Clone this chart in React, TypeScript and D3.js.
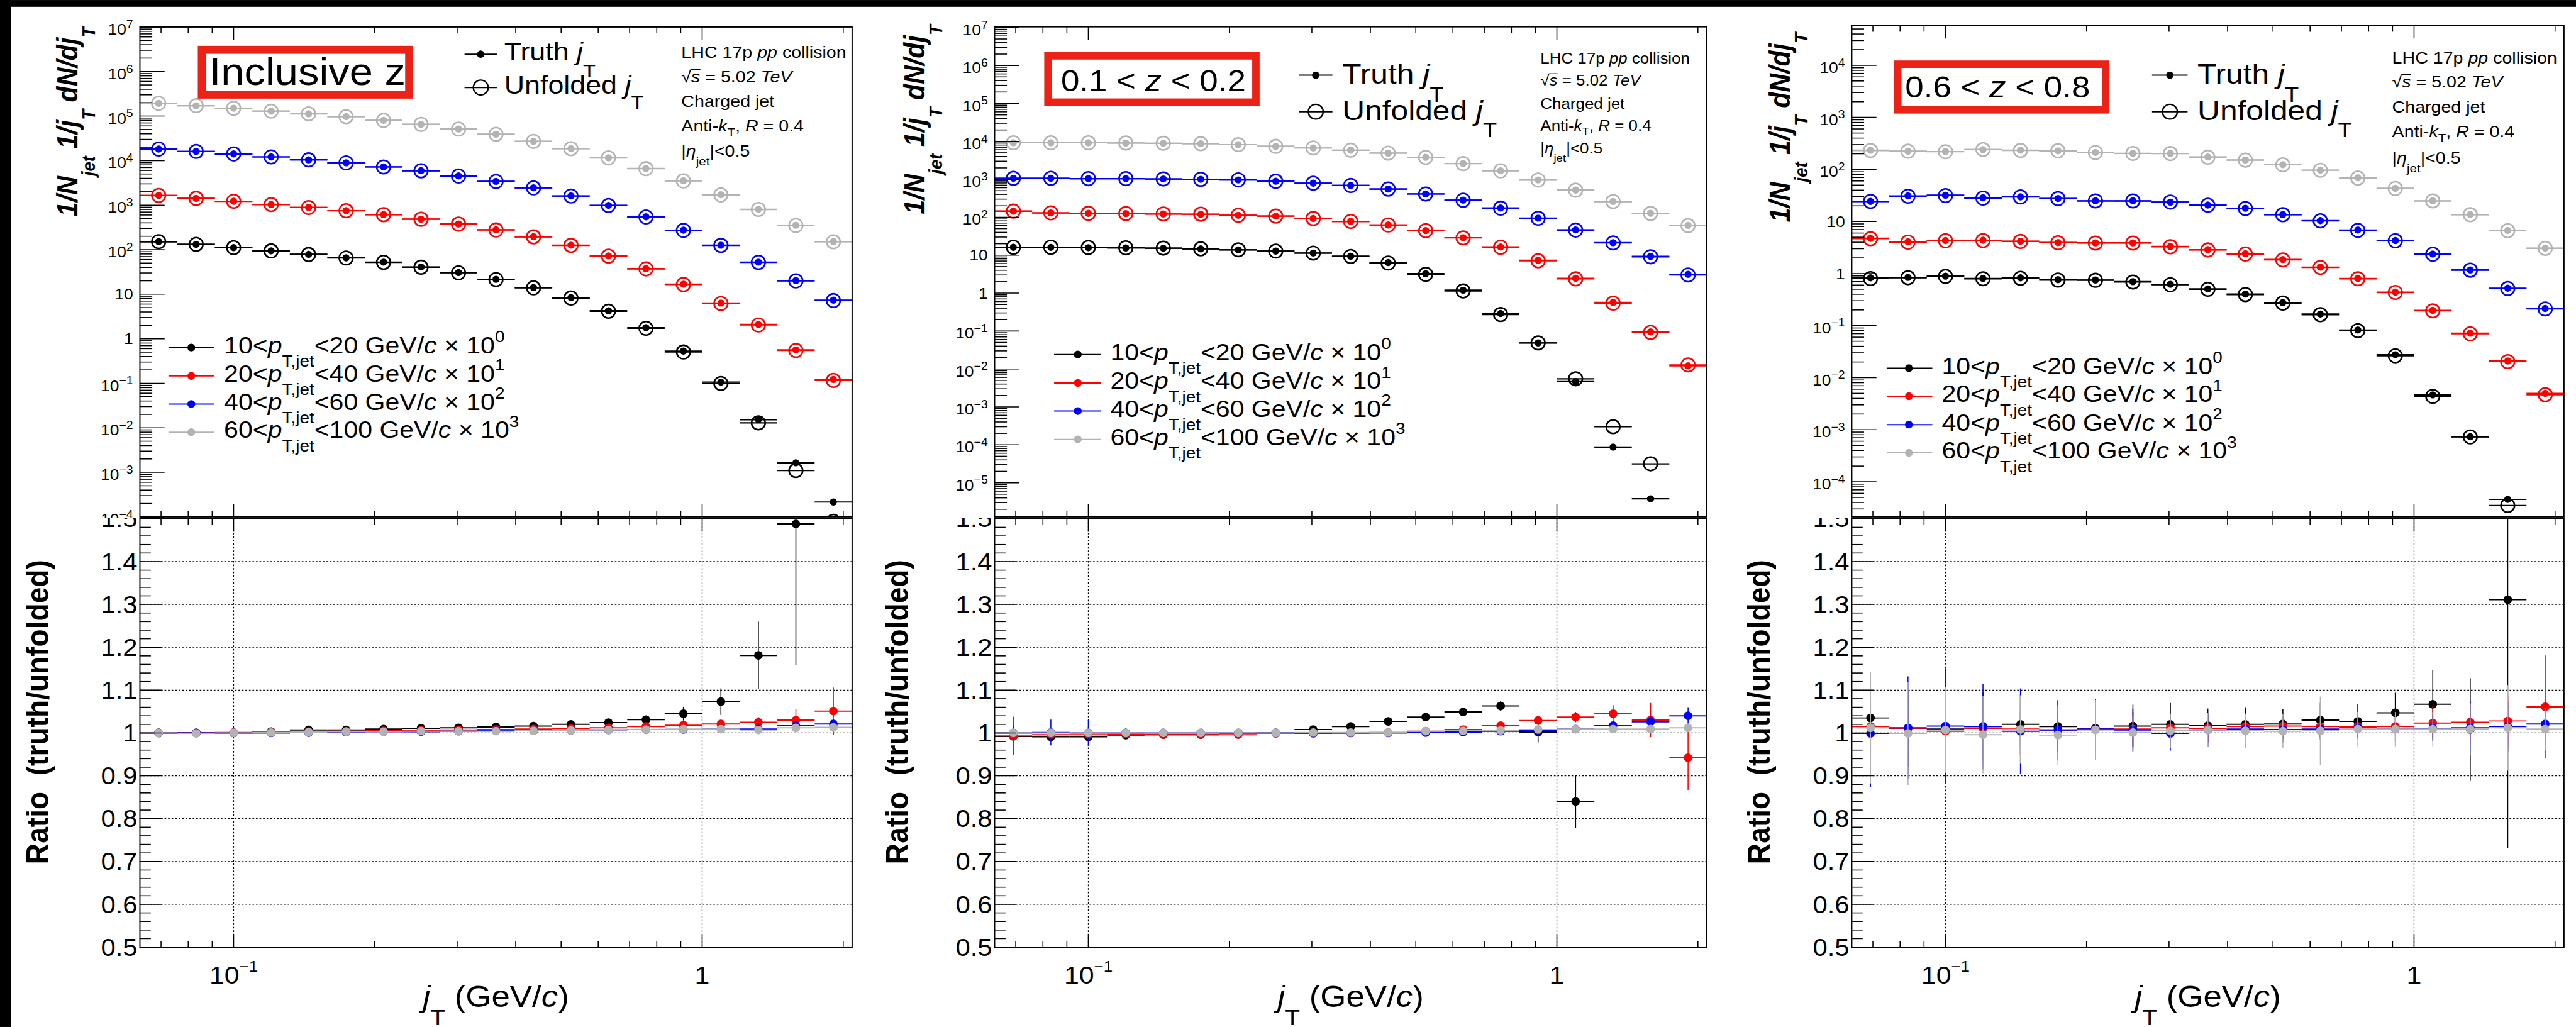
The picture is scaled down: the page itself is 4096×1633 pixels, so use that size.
import React from 'react';
import * as d3 from 'd3';

// ---------------- data ----------------
const jtBinEdges = [0.063096, 0.075858, 0.091201, 0.10965, 0.13183, 0.15849, 0.19055, 0.22909, 0.27542, 0.33113, 0.39811, 0.47863, 0.57544, 0.69183, 0.83176, 1.0, 1.2023, 1.4454, 1.7378, 2.0893];

const ptLow = [10, 20, 40, 60];
const ptHigh = [20, 40, 60, 100];
const scaleExp = ['0', '1', '2', '3'];
const seriesColors = ['#000000', '#ff0000', '#0000ff', '#b3b3b3'];

const xTickValues = [0.07, 0.08, 0.09, 0.1, 0.2, 0.3, 0.4, 0.5, 0.6, 0.7, 0.8, 0.9, 1, 2];
const xMajorTicks = [0.1, 1];
const xTickLabels = [{ v: 0.1, base: '10', exp: '\u22121' }, { v: 1, base: '1', exp: '' }];
const ratioTicks = [0.5, 0.6, 0.7, 0.8, 0.9, 1.0, 1.1, 1.2, 1.3, 1.4, 1.5];
const ratioTickLabels = ['0.5', '0.6', '0.7', '0.8', '0.9', '1', '1.1', '1.2', '1.3', '1.4', '1.5'];
const ratioGridValues = [0.6, 0.7, 0.8, 0.9, 1.0, 1.1, 1.2, 1.3, 1.4];

// Inclusive z : unfolded spectra (already multiplied by the legend scale factors)
const unfoldedInclusive: (number | null)[][] = [
  [151, 132, 111, 94, 78, 65, 52, 40.4, 30.3, 21.3, 13.9, 8.2, 4.15, 1.72, 0.505, 0.099, 0.0129, 0.0011, 8.0e-5],
  [1650, 1420, 1220, 1030, 885, 748, 611, 482, 375, 277, 194, 125, 71.6, 37, 16.5, 6.2, 2.04, 0.546, 0.116],
  [18200, 16100, 14100, 12100, 10400, 8900, 7200, 5900, 4500, 3400, 2440, 1600, 980, 543, 272, 125, 52, 19.9, 7.2],
  [193000, 171000, 150000, 129000, 112000, 97000, 80000, 65000, 51000, 39000, 27000, 18500, 11500, 6600, 3500, 1700, 800, 350, 150],
];
const ratioInclusive: (number | null)[][] = [
  [1.0, 1.0, 1.0, 1.003, 1.007, 1.007, 1.009, 1.011, 1.012, 1.014, 1.016, 1.02, 1.024, 1.031, 1.045, 1.073, 1.181, 1.488, 2.7],
  [1.0, 1.0, 1.001, 1.002, 1.003, 1.004, 1.005, 1.006, 1.007, 1.008, 1.009, 1.01, 1.012, 1.015, 1.018, 1.021, 1.025, 1.03, 1.051],
  [1.0, 1.0, 1.0, 1.0, 1.001, 1.002, 1.003, 1.003, 1.004, 1.005, 1.005, 1.006, 1.007, 1.008, 1.008, 1.009, 1.009, 1.017, 1.021],
  [1.0, 0.999, 1.0, 1.001, 1.002, 1.003, 1.003, 1.004, 1.004, 1.004, 1.005, 1.006, 1.007, 1.008, 1.009, 1.009, 1.007, 1.012, 1.013],
];
const ratioErrInclusive: number[][] = [
  [0.002, 0.002, 0.002, 0.002, 0.002, 0.002, 0.002, 0.002, 0.003, 0.003, 0.004, 0.005, 0.006, 0.008, 0.016, 0.031, 0.079, 0.33, 0],
  [0.001, 0.001, 0.001, 0.001, 0.001, 0.002, 0.002, 0.002, 0.002, 0.003, 0.003, 0.004, 0.005, 0.006, 0.008, 0.01, 0.012, 0.025, 0.055],
  [0.001, 0.001, 0.001, 0.001, 0.001, 0.001, 0.001, 0.002, 0.002, 0.002, 0.002, 0.003, 0.003, 0.004, 0.005, 0.006, 0.01, 0.01, 0.01],
  [0.001, 0.001, 0.001, 0.001, 0.001, 0.001, 0.001, 0.001, 0.002, 0.002, 0.002, 0.002, 0.003, 0.003, 0.004, 0.004, 0.005, 0.006, 0.008],
];

// 0.1 < z < 0.2
const unfoldedZ01: (number | null)[][] = [
  [16.2, 16.2, 15.9, 15.6, 15.3, 14.7, 13.8, 12.8, 11.3, 9.25, 6.2, 3.13, 1.14, 0.272, 0.0485, 5.5e-3, 3.0e-4, 3.15e-5, null],
  [145, 130, 127, 125, 122, 120, 113, 107, 92.7, 77.6, 62.4, 44.3, 28.6, 16.2, 7.12, 2.37, 0.543, 0.092, 0.0128],
  [1060, 1060, 1040, 1040, 1020, 1000, 963, 890, 789, 687, 553, 410, 281, 174, 94, 45.9, 21, 9.06, 3.0],
  [9200, 9200, 9200, 9060, 8900, 8700, 8200, 7400, 6700, 5850, 4900, 3780, 2590, 1670, 955, 516, 258, 126, 60.3],
];
const ratioZ01: (number | null)[][] = [
  [0.992, 0.991, 0.991, 0.995, 0.996, 0.996, 0.999, 1.0, 1.008, 1.015, 1.027, 1.037, 1.049, 1.063, 1.002, 0.84, 0.29, 0.12, null],
  [0.993, 0.996, 0.996, 0.997, 0.996, 0.996, 0.996, 0.999, 0.999, 1.0, 1.001, 1.004, 1.008, 1.017, 1.029, 1.037, 1.045, 1.03, 0.942],
  [1.0, 1.001, 1.0, 1.0, 1.0, 1.0, 1.0, 1.0, 1.0, 1.0, 1.0, 1.001, 1.002, 1.004, 1.006, 1.009, 1.017, 1.026, 1.04],
  [1.0, 1.0, 1.0, 1.0, 1.0, 1.0, 1.0, 1.0, 1.001, 1.001, 1.001, 1.004, 1.005, 1.006, 1.008, 1.009, 1.009, 1.009, 1.012],
];
const ratioErrZ01: number[][] = [
  [0.006, 0.006, 0.006, 0.005, 0.004, 0.004, 0.003, 0.003, 0.003, 0.004, 0.005, 0.006, 0.008, 0.012, 0.024, 0.062, 0, 0, 0],
  [0.045, 0.01, 0.008, 0.006, 0.005, 0.004, 0.004, 0.004, 0.004, 0.004, 0.004, 0.005, 0.006, 0.008, 0.01, 0.012, 0.02, 0.04, 0.075],
  [0.015, 0.03, 0.03, 0.012, 0.01, 0.008, 0.006, 0.005, 0.005, 0.004, 0.004, 0.004, 0.004, 0.005, 0.006, 0.008, 0.01, 0.012, 0.02],
  [0.01, 0.01, 0.008, 0.006, 0.005, 0.005, 0.004, 0.004, 0.004, 0.004, 0.004, 0.004, 0.004, 0.005, 0.006, 0.006, 0.006, 0.008, 0.01],
];

// 0.6 < z < 0.8
const unfoldedZ06: (number | null)[][] = [
  [0.80, 0.832, 0.883, 0.793, 0.812, 0.749, 0.742, 0.687, 0.609, 0.498, 0.395, 0.271, 0.162, 0.080, 0.0263, 4.37e-3, 7.27e-4, 3.5e-5, null],
  [4.68, 4.02, 4.28, 4.31, 4.14, 3.91, 3.85, 3.85, 3.27, 2.84, 2.37, 1.83, 1.31, 0.793, 0.433, 0.192, 0.0696, 0.0203, 4.7e-3],
  [24.3, 30.6, 31.5, 28.1, 29.6, 27.5, 24.8, 24.8, 23.6, 20.6, 17.8, 13.5, 10.3, 6.77, 4.26, 2.35, 1.16, 0.515, 0.209],
  [231, 224, 219, 241, 232, 229, 211, 203, 202, 172, 151, 123, 96.5, 68.3, 43, 24.8, 13.5, 6.65, 3.05],
];
const ratioZ06: (number | null)[][] = [
  [1.035, 1.011, 1.009, 1.015, 1.02, 1.015, 1.011, 1.016, 1.02, 1.017, 1.02, 1.021, 1.03, 1.027, 1.047, 1.067, 1.008, 1.311, null],
  [1.015, 1.011, 1.004, 1.011, 1.009, 1.007, 1.009, 1.009, 1.012, 1.011, 1.015, 1.016, 1.015, 1.015, 1.015, 1.023, 1.025, 1.028, 1.061],
  [0.999, 1.012, 1.016, 1.015, 1.004, 1.007, 1.009, 1.007, 0.999, 1.007, 1.009, 1.008, 1.009, 1.012, 1.009, 1.011, 1.012, 1.015, 1.021],
  [1.012, 0.999, 1.007, 0.996, 1.008, 0.995, 1.007, 1.001, 1.005, 1.007, 1.005, 1.004, 1.005, 1.009, 1.009, 1.009, 1.009, 1.012, 1.009],
];
const ratioErrZ06: number[][] = [
  [0.1, 0.09, 0.1, 0.08, 0.07, 0.06, 0.06, 0.05, 0.05, 0.04, 0.04, 0.035, 0.04, 0.04, 0.047, 0.08, 0.12, 0.58, 0],
  [0.05, 0.04, 0.04, 0.04, 0.04, 0.03, 0.03, 0.04, 0.03, 0.03, 0.03, 0.03, 0.02, 0.02, 0.02, 0.04, 0.05, 0.06, 0.12],
  [0.125, 0.12, 0.135, 0.1, 0.1, 0.07, 0.07, 0.05, 0.04, 0.04, 0.03, 0.03, 0.025, 0.025, 0.03, 0.03, 0.06, 0.06, 0.05],
  [0.13, 0.12, 0.1, 0.09, 0.08, 0.07, 0.07, 0.04, 0.04, 0.04, 0.04, 0.04, 0.08, 0.04, 0.04, 0.04, 0.06, 0.1, 0.05],
];

// ---------------- layout ----------------
const VW = 4174, VH = 1664;
const FONT = "'Liberation Sans', Arial, Helvetica, sans-serif";
const SX = 1.1;
const PANEL_W = 1154;
const UP_BOTTOM = 837.5;
const R_TOP = 840.5;
const R_BOTTOM = 1534.7;
const CLIP_Y = 839;

const panels = [
  {
    left: 226.7, top: 43.7, yLog: [-4, 7],
    unfolded: unfoldedInclusive, ratio: ratioInclusive, err: ratioErrInclusive,
    box: { x: 327, y: 80.7, w: 336, h: 72.6, sw: 13 }, boxText: { x: 339, y: 137.3, size: 62, kind: 'inc' },
    leg: { x0: 752.7, x1: 805, xm: 779, y1: 87.8, y2: 141.8, tx: 817, b1: 98, b2: 151.6, size: 41.5 },
    info: { x: 1104, ys: [93.6, 133.75, 173, 213, 254], size: 26.5 },
    bleg: { x0: 273, x1: 346.4, xm: 310, ys: [563.1, 609.1, 654.6, 700.2], tx: 362.9 },
    yTitle: { x: 125, y: 43.5 }, rTitle: { x: 78.3, y: 907 },
  },
  {
    left: 1611.6, top: 43.4, yLog: [-5.9, 7.02],
    unfolded: unfoldedZ01, ratio: ratioZ01, err: ratioErrZ01,
    box: { x: 1698, y: 90.5, w: 337, h: 75, sw: 12 }, boxText: { x: 1719, y: 148, size: 49, kind: ['0.1', '0.2'] },
    leg: { x0: 2105, x1: 2159, xm: 2132, y1: 121.8, y2: 181, tx: 2175, b1: 135, b2: 194.8, size: 46 },
    info: { x: 2496, ys: [103, 138.7, 175.8, 211.8, 248.8], size: 24 },
    bleg: { x0: 1708, x1: 1784, xm: 1746.4, ys: [574.4, 620.5, 666, 712], tx: 1799 },
    yTitle: { x: 1498, y: 40 }, rTitle: { x: 1472, y: 907 },
  },
  {
    left: 3000.5, top: 41.3, yLog: [-4.675, 4.765],
    unfolded: unfoldedZ06, ratio: ratioZ06, err: ratioErrZ06,
    box: { x: 3075, y: 104, w: 337, h: 74, sw: 12 }, boxText: { x: 3087, y: 157.8, size: 49, kind: ['0.6', '0.8'] },
    leg: { x0: 3487, x1: 3544.6, xm: 3516, y1: 121.8, y2: 181, tx: 3560.6, b1: 135, b2: 194.8, size: 46 },
    info: { x: 3876, ys: [103, 141.9, 182.6, 222.3, 264.7], size: 26.5 },
    bleg: { x0: 3057, x1: 3131, xm: 3093, ys: [596.6, 642, 688, 733.7], tx: 3146.3 },
    yTitle: { x: 2900, y: 53 }, rTitle: { x: 2868, y: 907 },
  },
];

function T(props: any) {
  const { x, y, size, anchor = 'start', rot = false, weight = 'normal', italic = false, children, extra } = props;
  const tf = rot ? `translate(${x},${y}) rotate(-90) scale(1,${SX})` : `translate(${x},${y}) scale(${SX},1)`;
  return (
    <g transform={tf}>
      <text x={0} y={0} fontSize={size} textAnchor={anchor} fontFamily={FONT} fontWeight={weight}
        fontStyle={italic ? 'italic' : 'normal'} fill="#000">{children}</text>
      {extra}
    </g>
  );
}

function Panel({ cfg, idx }: any) {
  const L = cfg.left, R = L + PANEL_W;
  const nE = jtBinEdges.length;
  const x = d3.scaleLog().domain([jtBinEdges[0], jtBinEdges[nE - 1]]).range([L, R]);
  const y = d3.scaleLog().domain([Math.pow(10, cfg.yLog[0]), Math.pow(10, cfg.yLog[1])]).range([UP_BOTTOM, cfg.top]);
  const yr = d3.scaleLinear().domain([0.5, 1.5]).range([R_BOTTOM, R_TOP]);
  const bins = d3.range(nE - 1).map((k) => ({ lo: jtBinEdges[k], hi: jtBinEdges[k + 1], c: Math.sqrt(jtBinEdges[k] * jtBinEdges[k + 1]) }));

  const decades = d3.range(Math.ceil(cfg.yLog[0] - 1e-6), Math.floor(cfg.yLog[1] + 1e-6) + 1);
  const minors: number[] = [];
  for (let d = Math.floor(cfg.yLog[0]); d < Math.ceil(cfg.yLog[1]); d++) {
    for (let m = 2; m <= 9; m++) {
      const lv = Math.log10(m) + d;
      if (lv > cfg.yLog[0] && lv < cfg.yLog[1]) minors.push(Math.pow(10, lv));
    }
  }
  const rMinor = d3.range(0, 51).map((i) => 0.5 + i * 0.02).filter((v) => Math.abs(v * 10 - Math.round(v * 10)) > 1e-6);

  const upClip = `upc${idx}`, rClip = `rc${idx}`, upLab = `upl${idx}`, rLab = `rl${idx}`;
  const tickW = 1.6;

  const xTicks = (yy: number, dir: number, keyp: string) =>
    xTickValues.map((v) => {
      const len = xMajorTicks.includes(v) ? 21 : 10;
      return <line key={keyp + v} x1={x(v)} x2={x(v)} y1={yy} y2={yy + dir * len} stroke="#000" strokeWidth={tickW} />;
    });

  const info = cfg.info;
  const fs = info.size;
  const leg = cfg.leg;
  const lsub = leg.size * 0.73;
  const ldy = leg.size * 0.65;
  const bfs = 38;

  return (
    <g>
      <defs>
        <clipPath id={upClip}><rect x={L} y={cfg.top} width={PANEL_W} height={UP_BOTTOM - cfg.top} /></clipPath>
        <clipPath id={rClip}><rect x={L} y={R_TOP} width={PANEL_W} height={R_BOTTOM - R_TOP} /></clipPath>
        <clipPath id={upLab}><rect x={L - 220} y={0} width={240} height={CLIP_Y} /></clipPath>
        <clipPath id={rLab}><rect x={L - 220} y={CLIP_Y} width={240} height={VH - CLIP_Y} /></clipPath>
      </defs>

      {/* ---------- upper pad ---------- */}
      <g clipPath={`url(#${upClip})`}>
        {cfg.unfolded.map((row: (number | null)[], s: number) => (
          <g key={'s' + s}>
            {row.map((u, k) => {
              if (u == null) return null;
              const col = seriesColors[s];
              const b = bins[k];
              const r = cfg.ratio[s][k];
              const t = r == null ? null : u * r;
              return (
                <g key={k}>
                  <line x1={x(b.lo)} x2={x(b.hi)} y1={y(u)} y2={y(u)} stroke={col} strokeWidth={2.2} />
                  <circle cx={x(b.c)} cy={y(u)} r={11} fill="none" stroke={col} strokeWidth={2.6} />
                  {t != null && <line x1={x(b.lo)} x2={x(b.hi)} y1={y(t)} y2={y(t)} stroke={col} strokeWidth={2.2} />}
                  {t != null && <circle cx={x(b.c)} cy={y(t)} r={5.8} fill={col} />}
                </g>
              );
            })}
          </g>
        ))}
      </g>
      <rect x={L} y={cfg.top} width={PANEL_W} height={UP_BOTTOM - cfg.top} fill="none" stroke="#000" strokeWidth={2} />
      {decades.map((d: number) => (
        <line key={'yd' + d} x1={L} x2={L + 40} y1={y(Math.pow(10, d))} y2={y(Math.pow(10, d))} stroke="#000" strokeWidth={tickW} />
      ))}
      {minors.map((v) => (
        <line key={'ym' + v} x1={L} x2={L + 20} y1={y(v)} y2={y(v)} stroke="#000" strokeWidth={tickW} />
      ))}
      {xTicks(cfg.top, 1, 'tt')}
      {xTicks(UP_BOTTOM, -1, 'tb')}
      <g clipPath={`url(#${upLab})`}>
        {decades.map((d: number) => {
          const yy = y(Math.pow(10, d));
          if (d === 0 || d === 1) {
            return <T key={'yl' + d} x={L - 11} y={yy + 8.8} size={24.5} anchor="end">{d === 0 ? '1' : '10'}</T>;
          }
          const e = d < 0 ? '\u2212' + Math.abs(d) : String(d);
          return (
            <T key={'yl' + d} x={L - 11} y={yy + 12.3} size={24.5} anchor="end">
              10<tspan dy={-10.5} fontSize={18}>{e}</tspan>
            </T>
          );
        })}
      </g>

      {/* panel label box */}
      <rect x={cfg.box.x} y={cfg.box.y} width={cfg.box.w} height={cfg.box.h} fill="#fff" stroke="#ec2216" strokeWidth={cfg.box.sw} />
      {cfg.boxText.kind === 'inc' ? (
        <T x={cfg.boxText.x} y={cfg.boxText.y} size={cfg.boxText.size}>Inclusive z</T>
      ) : (
        <T x={cfg.boxText.x} y={cfg.boxText.y} size={cfg.boxText.size}>
          {cfg.boxText.kind[0] + ' < '}<tspan fontStyle="italic">z</tspan>{' < ' + cfg.boxText.kind[1]}
        </T>
      )}

      {/* truth / unfolded legend */}
      <line x1={leg.x0} x2={leg.x1} y1={leg.y1} y2={leg.y1} stroke="#000" strokeWidth={2} />
      <circle cx={leg.xm} cy={leg.y1} r={6} fill="#000" />
      <line x1={leg.x0} x2={leg.x1} y1={leg.y2} y2={leg.y2} stroke="#000" strokeWidth={2} />
      <circle cx={leg.xm} cy={leg.y2} r={12} fill="none" stroke="#000" strokeWidth={2.4} />
      <T x={leg.tx} y={leg.b1} size={leg.size}>
        {'Truth '}<tspan fontStyle="italic">j</tspan><tspan dy={ldy} fontSize={lsub}>T</tspan>
      </T>
      <T x={leg.tx} y={leg.b2} size={leg.size}>
        {'Unfolded '}<tspan fontStyle="italic">j</tspan><tspan dy={ldy * 0.92} fontSize={lsub}>T</tspan>
      </T>

      {/* info text */}
      <T x={info.x} y={info.ys[0]} size={fs}>
        {'LHC 17p '}<tspan fontStyle="italic">pp</tspan>{' collision'}
      </T>
      <T x={info.x} y={info.ys[1]} size={fs}
        extra={<line x1={fs * 0.52} x2={fs * 1.06} y1={-fs * 0.8} y2={-fs * 0.8} stroke="#000" strokeWidth={1.4} />}>
        {'\u221A'}<tspan fontStyle="italic">s</tspan>{' = 5.02 '}<tspan fontStyle="italic">TeV</tspan>
      </T>
      <T x={info.x} y={info.ys[2]} size={fs}>Charged jet</T>
      <T x={info.x} y={info.ys[3]} size={fs}>
        {'Anti-'}<tspan fontStyle="italic">k</tspan><tspan dy={fs * 0.31} fontSize={fs * 0.72}>T</tspan>
        <tspan dy={-fs * 0.31}>{', '}</tspan><tspan fontStyle="italic">R</tspan>{' = 0.4'}
      </T>
      <T x={info.x} y={info.ys[4]} size={fs}>
        {'|'}<tspan fontStyle="italic">{'\u03B7'}</tspan><tspan dy={fs * 0.54} fontSize={fs * 0.72}>jet</tspan>
        <tspan dy={-fs * 0.54}>{'|<0.5'}</tspan>
      </T>

      {/* pT bin legend */}
      {cfg.bleg.ys.map((yy: number, s: number) => (
        <g key={'bl' + s}>
          <line x1={cfg.bleg.x0} x2={cfg.bleg.x1} y1={yy} y2={yy} stroke={seriesColors[s]} strokeWidth={2} />
          <circle cx={cfg.bleg.xm} cy={yy} r={6.3} fill={seriesColors[s]} />
          <T x={cfg.bleg.tx} y={yy + 9.5} size={bfs}>
            {ptLow[s] + '<'}<tspan fontStyle="italic">p</tspan>
            <tspan dy={21.8} fontSize={bfs * 0.68}>T,jet</tspan>
            <tspan dy={-21.8}>{'<' + ptHigh[s] + ' GeV/'}</tspan><tspan fontStyle="italic">c</tspan>
            {' \u00D7 10'}<tspan dy={-18} fontSize={bfs * 0.68}>{scaleExp[s]}</tspan>
          </T>
        </g>
      ))}

      {/* y title upper */}
      <T x={cfg.yTitle.x} y={cfg.yTitle.y} size={42} rot anchor="end" weight="bold" italic>
        {'1/N'}<tspan dy={26} fontSize={28}>jet</tspan>
        <tspan dy={-26}>{' 1/j'}</tspan><tspan dy={26} fontSize={28}>T</tspan>
        <tspan dy={-26}>{' dN/dj'}</tspan><tspan dy={26} fontSize={28}>T</tspan>
      </T>

      {/* ---------- ratio pad ---------- */}
      <rect x={L} y={R_TOP} width={PANEL_W} height={R_BOTTOM - R_TOP} fill="#fff" stroke="none" />
      {ratioGridValues.map((v) => (
        <line key={'gh' + v} x1={L} x2={R} y1={yr(v)} y2={yr(v)} stroke="#000" strokeWidth={1.3} strokeDasharray="2.7 3" />
      ))}
      {xMajorTicks.map((v) => (
        <line key={'gv' + v} x1={x(v)} x2={x(v)} y1={R_TOP} y2={R_BOTTOM} stroke="#000" strokeWidth={1.3} strokeDasharray="2.7 3" />
      ))}
      <g clipPath={`url(#${rClip})`}>
        {cfg.ratio.map((row: (number | null)[], s: number) => (
          <g key={'r' + s}>
            {row.map((r, k) => {
              if (r == null) return null;
              const col = seriesColors[s];
              const b = bins[k];
              const e = cfg.err[s][k];
              return (
                <g key={k}>
                  <line x1={x(b.lo)} x2={x(b.hi)} y1={yr(r)} y2={yr(r)} stroke={col} strokeWidth={2} />
                  {e > 0 && <line x1={x(b.c)} x2={x(b.c)} y1={yr(r - e)} y2={yr(r + e)} stroke={col} strokeWidth={1.6} />}
                  <circle cx={x(b.c)} cy={yr(r)} r={7} fill={col} />
                </g>
              );
            })}
          </g>
        ))}
      </g>
      <rect x={L} y={R_TOP} width={PANEL_W} height={R_BOTTOM - R_TOP} fill="none" stroke="#000" strokeWidth={2} />
      {ratioTicks.map((v) => (
        <line key={'rt' + v} x1={L} x2={L + 35} y1={yr(v)} y2={yr(v)} stroke="#000" strokeWidth={tickW} />
      ))}
      {rMinor.map((v) => (
        <line key={'rm' + v} x1={L} x2={L + 17.7} y1={yr(v)} y2={yr(v)} stroke="#000" strokeWidth={tickW} />
      ))}
      {xTicks(R_TOP, 1, 'rt')}
      {xTicks(R_BOTTOM, -1, 'rb')}
      <g clipPath={`url(#${rLab})`}>
        {ratioTicks.map((v, i) => (
          <T key={'rl' + v} x={L - 4} y={yr(v) + 13.9} size={38.7} anchor="end">{ratioTickLabels[i]}</T>
        ))}
      </g>
      {xTickLabels.map((t) => (
        <T key={'xl' + t.v} x={x(t.v)} y={1594} size={39.7} anchor="middle">
          {t.base}{t.exp && <tspan dy={-20} fontSize={24}>{t.exp}</tspan>}
        </T>
      ))}
      <T x={L + PANEL_W / 2} y={1631} size={49} anchor="middle">
        <tspan fontStyle="italic">j</tspan><tspan dy={30} fontSize={36}>T</tspan>
        <tspan dy={-30}>{' (GeV/'}</tspan><tspan fontStyle="italic">c</tspan>{')'}
      </T>
      <T x={cfg.rTitle.x} y={cfg.rTitle.y} size={47} rot anchor="end" weight="bold">
        {'Ratio\u00A0 (truth/unfolded)'}
      </T>
    </g>
  );
}

export default function App() {
  return (
    <div style={{ position: 'absolute', left: 0, top: 0 }}>
      <svg width={4096} height={1633} viewBox={`0 0 ${VW} ${VH}`} style={{ display: 'block' }}>
        <rect x={0} y={0} width={VW} height={VH} fill="#fff" />
        {panels.map((p, i) => (
          <Panel key={i} cfg={p} idx={i} />
        ))}
        <rect x={0} y={0} width={17.7} height={VH} fill="#000" />
        <rect x={0} y={0} width={VW} height={11} fill="#000" />
      </svg>
    </div>
  );
}
